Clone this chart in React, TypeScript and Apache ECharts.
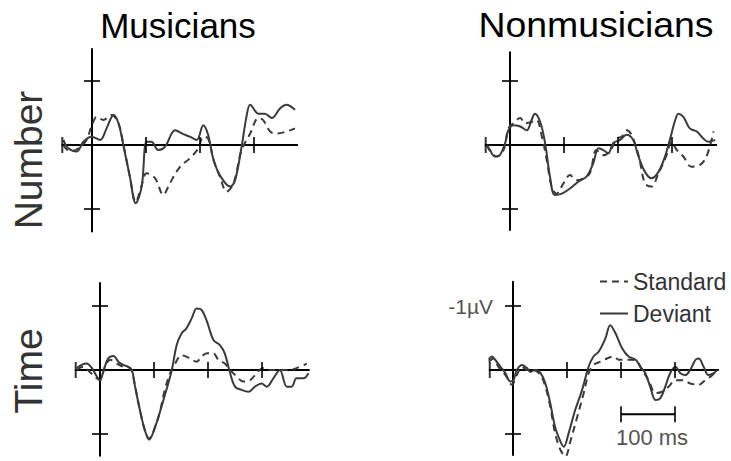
import React, { useEffect, useRef } from "react";
import * as echarts from "echarts";

// ERP traces: [time in ms, amplitude in µV] (negative plotted upward)
const musiciansNumberStandard: [number, number][] = [
  [-53, 0], [-41, 0.1], [-25, 0.05], [-10, -0.08], [-1, -0.29], [9, -0.44], [21, -0.39], [36, -0.47],
  [49, -0.34], [59, 0.03], [70, 0.49], [81, 0.89], [92, 0.63], [101, 0.44], [117, 0.52], [132, 0.78],
  [144, 0.6], [163, 0.34], [181, 0.21], [197, 0.05], [206, -0.13], [215, -0.1], [225, 0.23], [238, 0.52],
  [249, 0.73], [262, 0.6], [277, 0.08], [293, -0.18], [308, -0.42], [317, -0.39], [330, -0.21],
  [342, -0.18], [360, -0.21], [376, -0.26],
];
const musiciansNumberDeviant: [number, number][] = [
  [-53, -0.08], [-44, 0.05], [-28, 0.1], [-16, -0.05], [-1, -0.13], [15, -0.08], [27, -0.26], [40, -0.47],
  [49, -0.34], [58, 0], [70, 0.49], [81, 0.91], [92, 0.65], [101, -0.05], [110, -0.05], [123, 0.08],
  [135, 0.03], [154, -0.23], [169, -0.17], [181, -0.13], [194, -0.08], [206, -0.31], [215, -0.16],
  [225, 0.23], [238, 0.49], [256, 0.65], [265, 0.55], [277, 0.03], [286, -0.44], [293, -0.63],
  [308, -0.49], [320, -0.49], [333, -0.42], [348, -0.57], [360, -0.63], [376, -0.55],
];
const nonmusiciansNumberStandard: [number, number][] = [
  [-43, 0], [-34, 0.13], [-25, 0.18], [-12, 0.08], [-3, -0.26], [6, -0.34], [19, -0.42], [28, -0.34],
  [40, -0.36], [49, -0.39], [59, -0.13], [68, 0.23], [77, 0.65], [86, 0.76], [99, 0.6], [111, 0.47],
  [123, 0.55], [136, 0.52], [148, 0.44], [160, 0.08], [173, 0.16], [185, 0.1], [198, -0.1], [207, -0.13],
  [216, -0.23], [225, -0.16], [238, 0.16], [250, 0.6], [262, 0.65], [275, 0.44], [290, 0.16],
  [299, -0.05], [309, 0.08], [321, 0.18], [336, 0.34], [352, 0.31], [364, 0.18], [377, -0.21],
];
const nonmusiciansNumberDeviant: [number, number][] = [
  [-43, 0], [-37, 0.08], [-28, 0.18], [-19, 0.16], [-9, -0.03], [-3, -0.23], [6, -0.31], [19, -0.29],
  [31, -0.23], [40, -0.39], [46, -0.49], [56, -0.36], [65, -0.03], [74, 0.49], [83, 0.78], [96, 0.76],
  [111, 0.68], [127, 0.57], [142, 0.49], [154, 0.29], [164, 0.05], [173, 0.08], [182, 0.13],
  [191, -0.03], [204, -0.08], [216, -0.16], [228, -0.08], [238, 0.18], [250, 0.42], [262, 0.52],
  [275, 0.42], [287, 0.18], [296, -0.08], [306, -0.39], [312, -0.49], [321, -0.44], [333, -0.26],
  [346, -0.21], [358, -0.1], [367, -0.05], [380, -0.08],
];
const musiciansTimeStandard: [number, number][] = [
  [-43, 0], [-31, -0.05], [-19, 0.03], [-6, 0.13], [0, 0.16], [9, -0.05], [19, -0.16], [31, -0.1],
  [43, -0.05], [56, -0.03], [65, 0.26], [74, 0.63], [83, 0.94], [91, 1.07], [102, 0.89], [111, 0.65],
  [120, 0.31], [130, 0.05], [139, -0.1], [151, -0.23], [160, -0.21], [170, -0.16], [179, -0.13],
  [188, -0.21], [198, -0.26], [210, -0.26], [219, -0.16], [231, -0.1], [241, 0], [253, 0.1],
  [265, 0.18], [278, 0.16], [290, 0.05], [302, -0.03], [315, 0], [333, 0], [352, 0], [364, -0.03],
  [383, -0.1],
];
const musiciansTimeDeviant: [number, number][] = [
  [-43, -0.03], [-34, -0.08], [-25, -0.1], [-15, -0.03], [-6, 0.1], [0, 0.16], [6, 0.03], [15, -0.18],
  [25, -0.22], [34, -0.13], [43, -0.08], [52, -0.05], [59, 0], [65, 0.26], [74, 0.63], [83, 0.94],
  [91, 1.09], [102, 0.89], [114, 0.57], [123, 0.31], [133, 0], [142, -0.39], [151, -0.57],
  [160, -0.65], [170, -0.81], [179, -0.96], [188, -0.94], [198, -0.76], [210, -0.47], [222, -0.39],
  [231, -0.26], [241, 0.05], [250, 0.26], [262, 0.31], [275, 0.34], [287, 0.26], [299, 0.21],
  [309, 0.26], [321, 0.13], [333, 0], [346, 0.26], [355, 0.26], [364, 0.13], [377, 0.13], [386, 0.05],
];
const nonmusiciansTimeStandard: [number, number][] = [
  [-45, -0.13], [-36, -0.18], [-27, -0.05], [-14, 0.08], [-2, 0.23], [7, 0.08], [17, -0.05], [26, 0],
  [38, 0], [51, 0.08], [60, 0.26], [69, 0.57], [78, 0.99], [88, 1.25], [97, 1.35], [106, 1.12],
  [119, 0.73], [131, 0.36], [140, 0.05], [149, -0.08], [162, -0.13], [174, -0.18], [186, -0.21],
  [196, -0.16], [208, -0.16], [220, -0.16], [230, -0.13], [239, 0], [251, 0.16], [264, 0.36],
  [276, 0.34], [288, 0.26], [301, 0.16], [316, 0.16], [328, 0.21], [344, 0.23], [356, 0.16],
  [369, 0.08], [378, 0],
];
const nonmusiciansTimeDeviant: [number, number][] = [
  [-45, -0.16], [-39, -0.21], [-33, -0.16], [-23, -0.05], [-14, 0.05], [-5, 0.18], [1, 0.16], [7, 0],
  [17, -0.08], [26, -0.03], [32, 0.03], [41, 0], [51, 0.05], [60, 0.21], [69, 0.52], [78, 0.89],
  [88, 1.12], [94, 1.2], [103, 0.99], [115, 0.63], [128, 0.31], [140, -0.05], [149, -0.21],
  [159, -0.29], [171, -0.49], [180, -0.7], [190, -0.57], [202, -0.34], [214, -0.21], [227, -0.16],
  [236, -0.05], [245, 0.05], [254, 0.26], [264, 0.47], [273, 0.44], [282, 0.26], [291, 0.05],
  [301, -0.05], [310, 0.05], [319, 0.08], [328, 0], [338, -0.16], [344, -0.18], [353, -0.05],
  [362, 0.08], [372, 0.05], [378, 0],
];

const columnTitles = ["Musicians", "Nonmusicians"];
const rowTitles = ["Number", "Time"];
const legendNames = ["Standard", "Deviant"];
const timeTicks = [100, 200, 300];
const ampTicks = [-1, 1];
const scaleBar: [number, number][] = [[200, 0.69], [300, 0.69]];

// panel frames: where t=0/µV=0 sits on the page and each axis range
const PX_PER_MS = 0.54;
const PX_PER_UV = 64;
const panels = [
  { ox: 92, oy: 145, tMin: -55, tMax: 380, vMin: -1.5, vMax: 1.35, std: musiciansNumberStandard, dev: musiciansNumberDeviant },
  { ox: 510, oy: 145, tMin: -45, tMax: 382, vMin: -1.45, vMax: 1.33, std: nonmusiciansNumberStandard, dev: nonmusiciansNumberDeviant },
  { ox: 100, oy: 370, tMin: -45, tMax: 387, vMin: -1.36, vMax: 1.34, std: musiciansTimeStandard, dev: musiciansTimeDeviant },
  { ox: 513, oy: 370, tMin: -43, tMax: 380, vMin: -1.38, vMax: 1.33, std: nonmusiciansTimeStandard, dev: nonmusiciansTimeDeviant },
];

const INK = "#000";
const TRACE = "#3a3a3a";
const FONT = "'Liberation Sans', Arial, Helvetica, sans-serif";

function buildOption() {
  const grid: any[] = [];
  const xAxis: any[] = [];
  const yAxis: any[] = [];
  const series: any[] = [];

  panels.forEach((p, i) => {
    grid.push({
      left: p.ox + p.tMin * PX_PER_MS,
      top: p.oy + p.vMin * PX_PER_UV,
      width: (p.tMax - p.tMin) * PX_PER_MS,
      height: (p.vMax - p.vMin) * PX_PER_UV,
      containLabel: false,
    });
    const axisBase = {
      type: "value",
      gridIndex: i,
      axisLine: { show: true, onZero: true, lineStyle: { color: INK, width: 2 } },
      axisTick: { show: false },
      axisLabel: { show: false },
      splitLine: { show: false },
    };
    xAxis.push({ ...axisBase, min: p.tMin, max: p.tMax });
    yAxis.push({ ...axisBase, min: p.vMin, max: p.vMax, inverse: true });

    series.push({
      name: legendNames[0],
      type: "line",
      xAxisIndex: i,
      yAxisIndex: i,
      data: p.std,
      smooth: 0.35,
      showSymbol: false,
      symbol: "none",
      clip: false,
      itemStyle: { color: TRACE },
      lineStyle: { color: TRACE, width: 2, type: [7, 5] },
      z: 3,
    });
    series.push({
      name: legendNames[1],
      type: "line",
      xAxisIndex: i,
      yAxisIndex: i,
      data: p.dev,
      smooth: 0.35,
      showSymbol: false,
      symbol: "none",
      clip: false,
      itemStyle: { color: TRACE },
      lineStyle: { color: TRACE, width: 2 },
      z: 4,
    });

    // tick marks crossing the axes
    series.push({
      type: "scatter",
      xAxisIndex: i,
      yAxisIndex: i,
      symbol: "rect",
      symbolSize: [16, 2],
      itemStyle: { color: INK },
      silent: true,
      z: 5,
      data: ampTicks.map((v) => ({
        value: [0, v],
        label:
          i === 3 && v === -1
            ? {
                show: true,
                position: "left",
                distance: 12,
                formatter: "-1µV",
                fontFamily: FONT,
                fontSize: 21,
                color: "#222",
              }
            : { show: false },
      })),
    });
    series.push({
      type: "scatter",
      xAxisIndex: i,
      yAxisIndex: i,
      symbol: "rect",
      symbolSize: [2, 16],
      itemStyle: { color: INK },
      silent: true,
      z: 5,
      data: [[p.tMin, 0], ...timeTicks.map((t) => [t, 0])],
    });
  });

  // 100 ms scale bar in the last panel
  series.push({
    type: "line",
    xAxisIndex: 3,
    yAxisIndex: 3,
    data: scaleBar,
    symbol: "none",
    lineStyle: { color: INK, width: 2 },
    silent: true,
    clip: false,
  });
  series.push({
    type: "scatter",
    xAxisIndex: 3,
    yAxisIndex: 3,
    symbol: "rect",
    symbolSize: [2, 16],
    itemStyle: { color: INK },
    silent: true,
    clip: false,
    data: scaleBar,
  });
  series.push({
    type: "scatter",
    xAxisIndex: 3,
    yAxisIndex: 3,
    symbolSize: 0,
    silent: true,
    clip: false,
    data: [[(scaleBar[0][0] + scaleBar[1][0]) / 2, scaleBar[0][1]]],
    label: {
      show: true,
      position: "bottom",
      distance: 12,
      offset: [4, 0],
      formatter: "100 ms",
      fontFamily: FONT,
      fontSize: 22,
      color: "#222",
    },
  });

  const textStyle = (text: string, size: number, fill: string) => ({
    text,
    font: `${size}px ${FONT}`,
    fill,
    align: "center",
    verticalAlign: "middle",
    textAlign: "center",
    textVerticalAlign: "middle",
  });

  const graphic: any[] = [
    { type: "text", x: 178, y: 25, style: textStyle(columnTitles[0], 35, INK) },
    { type: "text", x: 596, y: 25, scaleX: 1.07, style: textStyle(columnTitles[1], 35, INK) },
    { type: "text", x: 28, y: 160, rotation: Math.PI / 2, style: textStyle(rowTitles[0], 39, "#333") },
    { type: "text", x: 28, y: 371, rotation: Math.PI / 2, style: textStyle(rowTitles[1], 39, "#333") },
  ];

  return {
    animation: false,
    backgroundColor: "#fff",
    grid,
    xAxis,
    yAxis,
    series,
    graphic,
    legend: {
      data: legendNames,
      orient: "vertical",
      left: 594,
      top: 265,
      itemWidth: 28,
      itemHeight: 14,
      itemGap: 9,
      itemStyle: { color: "transparent", borderColor: "transparent", borderWidth: 0, opacity: 0 },
      textStyle: { fontFamily: FONT, fontSize: 23, lineHeight: 22, color: "#333" },
      selectedMode: false,
    },
  };
}

export default function App() {
  const ref = useRef<HTMLDivElement>(null);
  useEffect(() => {
    if (!ref.current) return;
    const chart = echarts.init(ref.current, null, { renderer: "svg", width: 731, height: 461 });
    chart.setOption(buildOption() as any);
    return () => chart.dispose();
  }, []);
  return (
    <div
      ref={ref}
      style={{ position: "fixed", left: 0, top: 0, width: 731, height: 461, background: "#fff" }}
    />
  );
}
